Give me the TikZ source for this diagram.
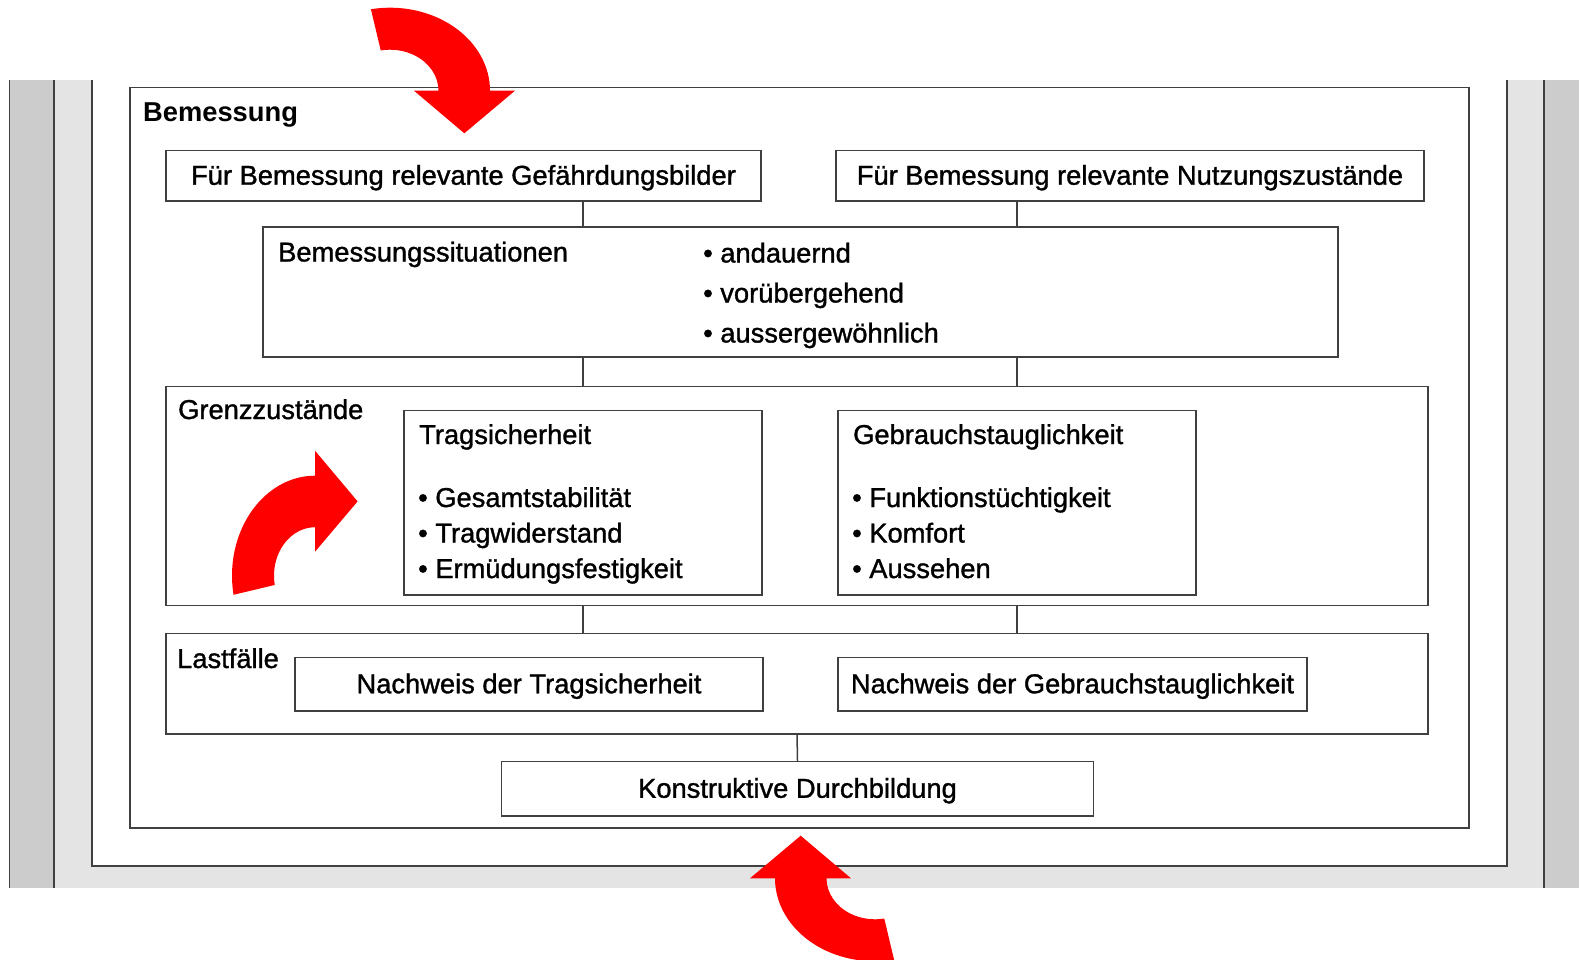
\documentclass[tikz,border=0pt]{standalone}
\usepackage{fontspec}
\setmainfont{Liberation Sans}
\newfontfamily\diafont{Liberation Sans}[FakeBold=1.2]
\definecolor{bandlight}{HTML}{E4E4E4}
\definecolor{banddark}{HTML}{CCCCCC}
\definecolor{frame}{HTML}{404040}

\begin{document}
\begin{tikzpicture}[x=1pt,y=-1pt,
  box/.style = {draw=frame, line width=1.5pt, fill=white, inner sep=0pt, text height=18pt, text depth=0pt, font=\fontsize{27.3}{33}\selectfont\diafont},
  txt/.style = {anchor=base west, inner sep=0pt, font=\fontsize{27.3}{33}\selectfont\diafont},
  head/.style = {txt, font=\fontsize{27.3}{33}\selectfont\bfseries},
  link/.style = {draw=frame, line width=1.5pt},
  bend/.pic = {
    \fill[red] (-19.08,-81.47) arc[start angle=-101, end angle=0, x radius=100, y radius=83]
      -- (125,0) -- (74.3,42.6) -- (24,0) -- (48.5,0)
      arc[start angle=0, end angle=-101, x radius=48.5, y radius=41] -- cycle;
  }]
\useasboundingbox (0,0) rectangle (1579,960);
\fill[bandlight] (9.3,80) rectangle (1579,887.7);
\fill[banddark] (9.3,80) rectangle (54,887.7);
\fill[banddark] (1544,80) rectangle (1579,887.7);
\fill[white] (92,80) rectangle (1507,866);
\draw[link] (9.3,80) -- (9.3,887.7) (54,80) -- (54,887.7) (1544,80) -- (1544,887.7);
\draw[link] (92,80) -- (92,866) -- (1507,866) -- (1507,80);

\node[box, minimum width=1339, minimum height=740.7] (bem) at (799.5,457.65) {};
\node[head] (bemlbl) at (143,121.5) {Bemessung};
\node[box, minimum width=595, minimum height=50.5] (gef) at (463.5,175.75) {Für Bemessung relevante Gefährdungsbilder};
\node[box, minimum width=588, minimum height=50.5] (nutz) at (1130,175.75) {Für Bemessung relevante Nutzungszustände};
\node[box, minimum width=1075, minimum height=130] (sit) at (800.5,292) {};
\node[txt] (sitlbl) at (278,261.5) {Bemessungssituationen};
\node[txt] (sit1) at (703,262.5) {\textbullet{} andauernd};
\node[txt] (sit2) at (703,302.5) {\textbullet{} vorübergehend};
\node[txt] (sit3) at (703,342.5) {\textbullet{} aussergewöhnlich};
\node[box, minimum width=1262, minimum height=219] (grenz) at (797,496) {};
\node[txt] (grenzlbl) at (178,419) {Grenzzustände};
\node[box, minimum width=358, minimum height=184.5] (trag) at (583,502.75) {};
\node[txt] (traglbl) at (419,444) {Tragsicherheit};
\node[txt] (trag1) at (418,507) {\textbullet{} Gesamtstabilität};
\node[txt] (trag2) at (418,542.5) {\textbullet{} Tragwiderstand};
\node[txt] (trag3) at (418,578) {\textbullet{} Ermüdungsfestigkeit};
\node[box, minimum width=358, minimum height=184.5] (gebr) at (1017,502.75) {};
\node[txt] (gebrlbl) at (853,444) {Gebrauchstauglichkeit};
\node[txt] (gebr1) at (852,507) {\textbullet{} Funktionstüchtigkeit};
\node[txt] (gebr2) at (852,542.5) {\textbullet{} Komfort};
\node[txt] (gebr3) at (852,578) {\textbullet{} Aussehen};
\node[box, minimum width=1262, minimum height=100.5] (last) at (797,683.75) {};
\node[txt] (lastlbl) at (177,668) {Lastfälle};
\node[box, minimum width=468, minimum height=53.5] (nwt) at (529,684.25) {Nachweis der Tragsicherheit};
\node[box, minimum width=469, minimum height=53.5] (nwg) at (1072.5,684.25) {Nachweis der Gebrauchstauglichkeit};
\node[box, minimum width=592, minimum height=54.5] (kon) at (797.5,788.75) {Konstruktive Durchbildung};

\draw[link] (gef.south -| trag.north) -- (sit.north -| trag.north);
\draw[link] (nutz.south -| gebr.north) -- (sit.north -| gebr.north);
\draw[link] (sit.south -| trag.north) -- (grenz.north -| trag.north);
\draw[link] (sit.south -| gebr.north) -- (grenz.north -| gebr.north);
\draw[link] (grenz.south -| trag.north) -- (last.north -| trag.north);
\draw[link] (grenz.south -| gebr.north) -- (last.north -| gebr.north);
\draw[link] (last.south) -- (kon.north);

\pic at (390,90.7) {bend};
\pic[rotate=90] at (315,575.7) {bend};
\pic[rotate=180] at (875,878.3) {bend};
\end{tikzpicture}
\end{document}
